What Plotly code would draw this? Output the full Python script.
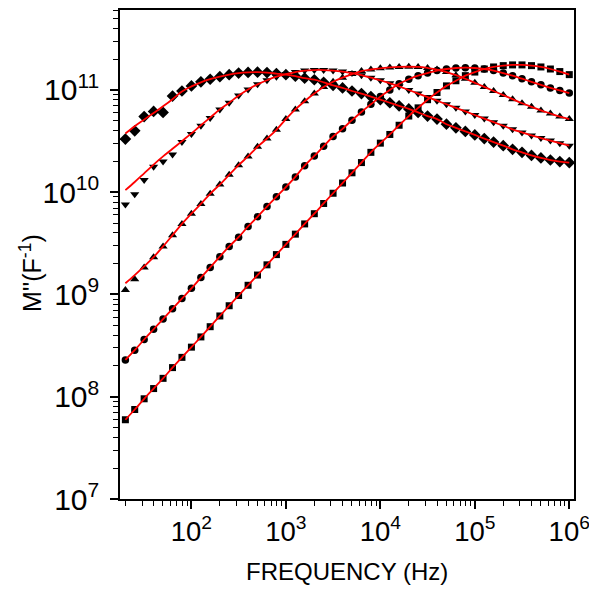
import plotly.graph_objects as go

# Frequency grid (Hz)
freq_hz = [2.00e1, 2.51e1, 3.16e1, 3.98e1, 5.01e1, 6.31e1, 7.94e1,
           1.00e2, 1.26e2, 1.58e2, 2.00e2, 2.51e2, 3.16e2, 3.98e2, 5.01e2, 6.31e2, 7.94e2,
           1.00e3, 1.26e3, 1.58e3, 2.00e3, 2.51e3, 3.16e3, 3.98e3, 5.01e3, 6.31e3, 7.94e3,
           1.00e4, 1.26e4, 1.58e4, 2.00e4, 2.51e4, 3.16e4, 3.98e4, 5.01e4, 6.31e4, 7.94e4,
           1.00e5, 1.26e5, 1.58e5, 2.00e5, 2.51e5, 3.16e5, 3.98e5, 5.01e5, 6.31e5, 7.94e5,
           1.00e6]

# log10 of M''
log_square = [7.775, 7.875, 7.98, 8.08, 8.18, 8.285, 8.385, 8.485, 8.585, 8.685,
              8.79, 8.89, 8.99, 9.09, 9.19, 9.29, 9.39, 9.49, 9.59, 9.69,
              9.79, 9.89, 9.99, 10.09, 10.19, 10.29, 10.39, 10.48, 10.565, 10.655,
              10.745, 10.825, 10.905, 10.975, 11.04, 11.09, 11.14, 11.175, 11.205, 11.225,
              11.238, 11.245, 11.245, 11.238, 11.225, 11.205, 11.18, 11.15]
log_circle = [8.36, 8.455, 8.56, 8.66, 8.76, 8.86, 8.96, 9.06, 9.165, 9.265,
              9.37, 9.47, 9.56, 9.665, 9.76, 9.86, 9.955, 10.05, 10.15, 10.26,
              10.355, 10.45, 10.545, 10.62, 10.705, 10.785, 10.86, 10.935, 11.0, 11.06,
              11.105, 11.14, 11.165, 11.19, 11.205, 11.215, 11.218, 11.215, 11.205, 11.19,
              11.165, 11.14, 11.11, 11.08, 11.05, 11.02, 10.995, 10.97]
log_tri_up = [9.045, 9.15, 9.265, 9.365, 9.47, 9.58, 9.69, 9.79, 9.885, 9.985,
              10.075, 10.17, 10.265, 10.35, 10.445, 10.525, 10.61, 10.715, 10.81, 10.89,
              10.965, 11.03, 11.08, 11.12, 11.155, 11.185, 11.2, 11.212, 11.22, 11.225,
              11.227, 11.225, 11.215, 11.2, 11.175, 11.145, 11.11, 11.07, 11.03, 10.99,
              10.95, 10.91, 10.87, 10.835, 10.8, 10.77, 10.74, 10.715]
log_tri_down = [9.88, 9.98, 10.12, 10.25, 10.30, 10.37, 10.49, 10.57, 10.65, 10.725,
                10.81, 10.875, 10.945, 11.005, 11.055, 11.095, 11.13, 11.155, 11.175, 11.19,
                11.195, 11.195, 11.19, 11.18, 11.165, 11.145, 11.12, 11.095, 11.065, 11.035,
                11.0, 10.965, 10.93, 10.895, 10.86, 10.825, 10.79, 10.755, 10.72, 10.685,
                10.65, 10.615, 10.585, 10.555, 10.53, 10.505, 10.48, 10.455]
log_diamond = [10.52, 10.60, 10.74, 10.79, 10.78, 10.94, 10.99, 11.04, 11.08, 11.105,
               11.13, 11.15, 11.165, 11.172, 11.174, 11.17, 11.16, 11.15, 11.135, 11.115,
               11.10, 11.075, 11.045, 11.02, 10.99, 10.965, 10.935, 10.905, 10.875, 10.845,
               10.815, 10.78, 10.745, 10.715, 10.665, 10.63, 10.595, 10.56, 10.525, 10.49,
               10.455, 10.42, 10.39, 10.36, 10.335, 10.315, 10.30, 10.29]

# fitted curves (red): differ from the data only at low frequency
fit_square = log_square
fit_circle = log_circle
fit_tri_up = [9.11, 9.19, 9.275, 9.365] + log_tri_up[4:]
fit_tri_down = [10.02, 10.10, 10.185, 10.27, 10.35, 10.425, 10.50, 10.575, 10.655,
                10.73, 10.81] + log_tri_down[11:]
fit_diamond = [10.575, 10.645, 10.71, 10.775, 10.84, 10.91, 10.985, 11.035,
               11.075] + log_diamond[9:]

series = [
    (log_square, fit_square, "square", 7),
    (log_circle, fit_circle, "circle", 7.5),
    (log_tri_up, fit_tri_up, "triangle-up", 8),
    (log_tri_down, fit_tri_down, "triangle-down", 8),
    (log_diamond, fit_diamond, "diamond", 9),
]

fig = go.Figure()
for data, fit, sym, sz in series:
    fig.add_trace(go.Scatter(
        x=freq_hz, y=[10 ** v for v in data], mode="markers",
        marker=dict(symbol=sym, size=sz, color="black", line=dict(width=0)),
        showlegend=False))
for data, fit, sym, sz in series:
    fig.add_trace(go.Scatter(
        x=freq_hz, y=[10 ** v for v in fit], mode="lines",
        line=dict(color="#ff0000", width=1.8, shape="spline"),
        showlegend=False))

font_family = "Liberation Sans, Arial, sans-serif"
axis_common = dict(
    type="log", showgrid=False, zeroline=False, automargin=False,
    showline=True, linecolor="black", linewidth=2, mirror=True,
    ticks="outside", ticklen=8, tickwidth=1.5, tickcolor="black",
    dtick=1, exponentformat="power", ticklabeloverflow="allow",
    minor=dict(ticks="outside", ticklen=5, tickwidth=1.2, tickcolor="black",
               dtick="D1", showgrid=False),
)
fig.update_xaxes(range=[1.244, 6.05], tickfont=dict(size=22, color="black", family=font_family),
                 **axis_common)
fig.update_yaxes(range=[7.0, 11.782], tickfont=dict(size=24, color="black", family=font_family),
                 ticklabelstandoff=6, **axis_common)

fig.update_layout(
    width=589, height=591,
    margin=dict(l=120, r=15, t=10, b=92, autoexpand=False),
    plot_bgcolor="white", paper_bgcolor="white",
    font=dict(family=font_family, color="black"),
    annotations=[
        dict(text="FREQUENCY (Hz)", xref="paper", yref="paper", x=0.5, y=-0.149,
             xanchor="center", yanchor="middle", showarrow=False,
             font=dict(size=24, color="black", family=font_family)),
        dict(text="M''(F<sup>-1</sup>)", xref="paper", yref="paper", x=-0.196, y=0.462,
             xanchor="center", yanchor="middle", showarrow=False, textangle=-90,
             font=dict(size=25, color="black", family=font_family)),
    ],
)

fig.write_html("out.html")
